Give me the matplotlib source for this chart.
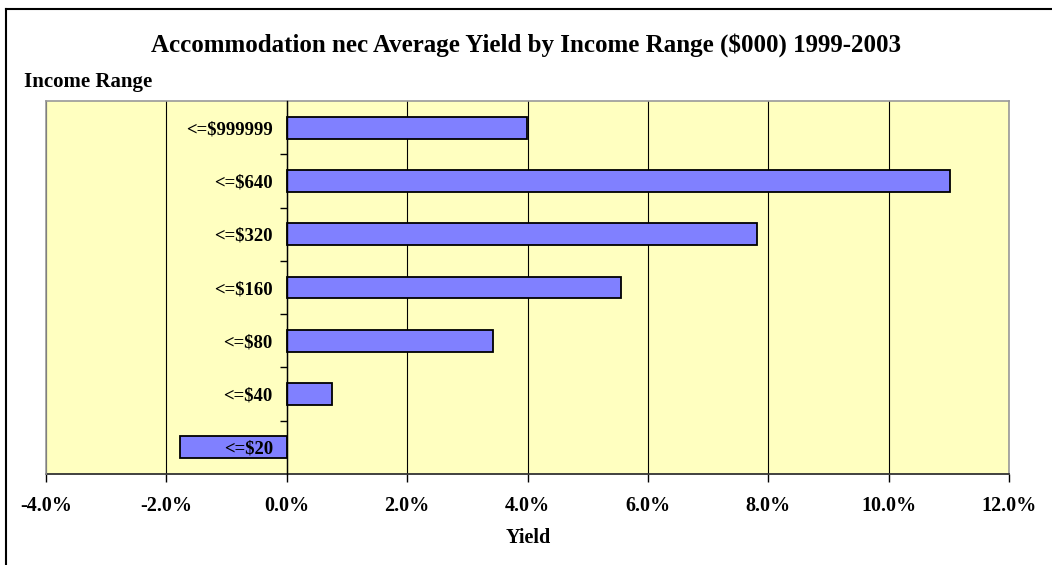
import matplotlib
matplotlib.use("Agg")
import matplotlib.pyplot as plt
from matplotlib.ticker import FuncFormatter, FixedLocator
from matplotlib.lines import Line2D

categories = ["<=$20", "<=$40", "<=$80", "<=$160", "<=$320", "<=$640", "<=$999999"]
yields = [-1.77, 0.75, 3.43, 5.56, 7.81, 11.02, 3.99]
x_ticks = [-4, -2, 0, 2, 4, 6, 8, 10, 12]

title = "Accommodation nec Average Yield by Income Range ($000) 1999-2003"
ylabel = "Income Range"
xlabel = "Yield"

W, H = 1052, 565
fig = plt.figure(figsize=(W / 100, H / 100), dpi=100)
serif = ["Liberation Serif", "DejaVu Serif"]

L, R, T, B = 46, 1009, 101, 474
ax = fig.add_axes([L / W, 1 - B / H, (R - L) / W, (B - T) / H])
ax.set_facecolor("#FFFFC0")

ypos = list(range(len(categories)))
ax.barh(ypos, yields, height=0.41, color="#8080FF", edgecolor="black", linewidth=1.3, zorder=3)

ax.set_xlim(-4, 12)
ax.set_ylim(-0.5, len(categories) - 0.5)
ax.set_xticks(x_ticks)
ax.xaxis.set_major_formatter(FuncFormatter(lambda v, p: f"{v:.1f}%"))
ax.grid(axis="x", color="black", linewidth=0.8, zorder=1)

ax.spines["left"].set_position(("data", 0))
ax.spines["left"].set_color("black")
ax.spines["left"].set_linewidth(1.0)
ax.spines["left"].set_zorder(4)
ax.spines["bottom"].set_color("#333333")
ax.spines["bottom"].set_linewidth(1.3)
for s in ("top", "right"):
    ax.spines[s].set_color("#999999")
    ax.spines[s].set_linewidth(1.2)
# left border of plot area
ax.add_line(Line2D([0, 0], [0, 1], transform=ax.transAxes, color="#999999", linewidth=1.2, zorder=5, clip_on=False))

ax.set_yticks(ypos)
ax.set_yticklabels(categories, fontfamily=serif, fontweight="bold", fontsize=13.5)
ax.tick_params(axis="y", which="major", length=0, pad=10)
ax.yaxis.set_minor_locator(FixedLocator([i + 0.5 for i in range(len(categories) - 1)]))
ax.tick_params(axis="y", which="minor", length=5, width=1, color="black", direction="out")
ax.yaxis.set_zorder(6)

ax.tick_params(axis="x", which="major", length=6, width=1, color="black", direction="out", pad=10)
for lab in ax.get_xticklabels():
    lab.set_fontfamily(serif)
    lab.set_fontweight("bold")
    lab.set_fontsize(14.5)

fig.text(526 / W, 1 - 45 / H, title, ha="center", va="center", fontfamily=serif,
         fontweight="bold", fontsize=18)
fig.text(24 / W, 1 - 82 / H, ylabel, ha="left", va="center", fontfamily=serif,
         fontweight="bold", fontsize=15)
fig.text(528 / W, 1 - 538 / H, xlabel, ha="center", va="center", fontfamily=serif,
         fontweight="bold", fontsize=14.5)

# chart border (left and top)
fig.add_artist(Line2D([6 / W, 6 / W], [0, 1 - 9 / H], transform=fig.transFigure, color="black", linewidth=1.5))
fig.add_artist(Line2D([6 / W, 1], [1 - 9 / H, 1 - 9 / H], transform=fig.transFigure, color="black", linewidth=1.5))

fig.savefig("out.png", dpi=100)
